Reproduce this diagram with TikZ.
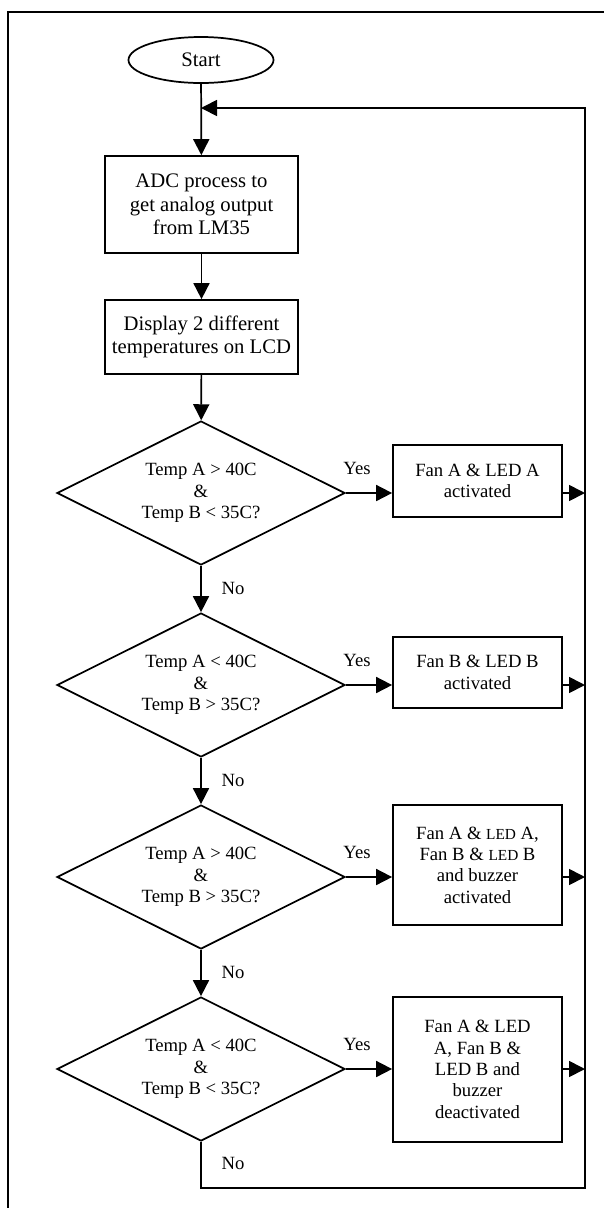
\documentclass[tikz,border=0pt]{standalone}
\usepackage{fontspec}
\setmainfont{Liberation Serif}
\usetikzlibrary{shapes.geometric,arrows.meta}
\newcommand{\smled}{{\fontsize{11.5pt}{16pt}\selectfont LED}}
\tikzset{
  arr/.style={-{Triangle[length=12pt,width=12pt]}, line width=1.3pt},
  bigtxt/.style={font=\fontsize{15.5pt}{17.6pt}\selectfont},
  smtxt/.style={font=\fontsize{14pt}{16pt}\selectfont},
  procbox/.style={draw, line width=1.3pt, rectangle, inner sep=0pt, align=center},
  dec/.style={draw, diamond, aspect=2, line width=1.3pt, inner sep=0pt, minimum width=216pt, minimum height=108pt, align=center, smtxt},
  lbl/.style={smtxt, inner sep=0pt},
  frame/.style={line width=0.9pt}
}
\begin{document}
\begin{tikzpicture}[x=0.75pt,y=-0.75pt]
\useasboundingbox (0,0) rectangle (604,1208);
\draw[frame] (8,1208) -- (8,12) -- (604,12);

\node[draw, ellipse, line width=1.3pt, inner sep=0pt, minimum width=108.75pt, minimum height=34.5pt, bigtxt] (start) at (201,60) {Start};
\node[procbox, bigtxt, minimum width=144.75pt, minimum height=72.75pt] (adc) at (201.5,204.5) {ADC process to\\get analog output\\from LM35};
\node[procbox, bigtxt, minimum width=144.75pt, minimum height=55.5pt] (disp) at (201.5,337) {Display 2 different\\temperatures on LCD};

\node[dec] (d1) at (201,493) {Temp A > 40C\\\&\\Temp B < 35C?};
\node[dec] (d2) at (201,685) {Temp A < 40C\\\&\\Temp B > 35C?};
\node[dec] (d3) at (201,877) {Temp A > 40C\\\&\\Temp B > 35C?};
\node[dec] (d4) at (201,1069) {Temp A < 40C\\\&\\Temp B < 35C?};

\node[procbox, smtxt, minimum width=126.75pt, minimum height=54pt] (b1) at (477.5,481) {Fan A \& LED A\\activated};
\node[procbox, smtxt, minimum width=126.75pt, minimum height=53.25pt] (b2) at (477.5,672.5) {Fan B \& LED B\\activated};
\node[procbox, smtxt, minimum width=126.75pt, minimum height=90pt] (b3) at (477.5,865) {Fan A \& \smled{} A,\\Fan B \& \smled{} B\\and buzzer\\activated};
\node[procbox, smtxt, minimum width=126.75pt, minimum height=108.75pt] (b4) at (477.5,1069.5) {Fan A \& LED\\A, Fan B \&\\LED B and\\buzzer\\deactivated};

\coordinate (join) at (201,108);
\coordinate (loopTR) at (585,108);
\coordinate (loopBR) at (585,1188);
\coordinate (loopBL) at (201,1188);

\draw[arr] (start) -- (adc);
\draw[arr] (adc) -- (disp);
\draw[arr] (disp) -- (d1);
\draw[arr] (d1) -- (d2);
\draw[arr] (d2) -- (d3);
\draw[arr] (d3) -- (d4);

\foreach \i in {1,2,3,4}{
  \draw[arr] (d\i.east) -- (d\i.east -| b\i.west);
  \draw[arr] (b\i.east |- d\i.east) -- (d\i.east -| loopTR);
}
\draw[arr] (d4.south) -- (loopBL) -- (loopBR) -- (loopTR) -- (join);

\node[lbl] (y1) at (357,468) {Yes};
\node[lbl] (y2) at (357,660) {Yes};
\node[lbl] (y3) at (357,852) {Yes};
\node[lbl] (y4) at (357,1044) {Yes};
\node[lbl] (n1) at (233,588) {No};
\node[lbl] (n2) at (233,780) {No};
\node[lbl] (n3) at (233,972) {No};
\node[lbl] (n4) at (233,1163) {No};
\end{tikzpicture}
\end{document}
